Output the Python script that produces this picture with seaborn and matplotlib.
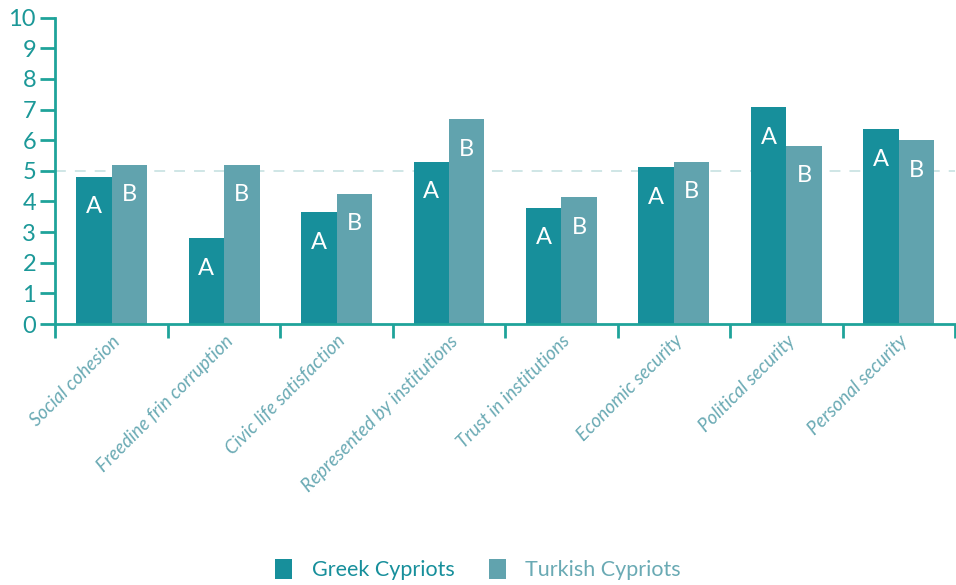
import numpy as np
import pandas as pd
import matplotlib
matplotlib.use("Agg")
import matplotlib.pyplot as plt
from matplotlib.patches import Patch
from matplotlib.ticker import FixedLocator
import seaborn as sns

sns.set_theme(style="white")
plt.rcParams['font.family'] = ['Lato', 'DejaVu Sans']

# data
categories = ["Social cohesion", "Freedine frin corruption", "Civic life satisfaction",
              "Represented by institutions", "Trust in institutions", "Economic security",
              "Political security", "Personal security"]
greek = [4.8, 2.8, 3.65, 5.3, 3.8, 5.12, 7.07, 6.36]
turkish = [5.2, 5.2, 4.26, 6.68, 4.13, 5.3, 5.81, 6.0]
groups = ["Greek Cypriots", "Turkish Cypriots"]
bar_letters = ["A", "B"]

dark = "#178f9b"
light = "#61a3ae"
axis_col = "#1fa39a"
tick_col = "#1b9898"
xlab_col = "#6aaab4"
W = 400  # font weight, the reference uses a thin sans

df = pd.DataFrame({
    "category": categories * 2,
    "value": greek + turkish,
    "group": [groups[0]] * len(categories) + [groups[1]] * len(categories),
})

fig = plt.figure(figsize=(9.56, 5.85), dpi=100)
ax = fig.add_axes([0.058, 0.446, 0.941, 0.524])

sns.barplot(data=df, x="category", y="value", hue="group", order=categories,
            hue_order=groups, palette=[dark, light], width=0.63, ax=ax,
            legend=False, saturation=1, edgecolor="none")

# white letters inside bar tops
for container, letter in zip(ax.containers, bar_letters):
    for bar in container:
        ax.annotate(letter, (bar.get_x() + bar.get_width() / 2, bar.get_height()),
                    xytext=(0, -14), textcoords="offset points", ha="center", va="top",
                    color="white", fontsize=17, fontweight=W)

ax.axhline(5, color="#cce4e4", linestyle=(0, (6, 5)), linewidth=1.3, zorder=0.5)

ax.set_ylim(0, 10)
ax.set_xlim(-0.5, len(categories) - 0.5)
ax.set_yticks(range(0, 11))
ax.set_xlabel("")
ax.set_ylabel("")

for side in ["top", "right"]:
    ax.spines[side].set_visible(False)
for side in ["left", "bottom"]:
    ax.spines[side].set_color(axis_col)
    ax.spines[side].set_linewidth(2)

ax.tick_params(axis="y", length=11, width=2, color=axis_col, labelcolor=tick_col,
               labelsize=17, pad=3, left=True)
for lbl in ax.get_yticklabels():
    lbl.set_fontweight(W)
ax.xaxis.set_minor_locator(FixedLocator(np.arange(-0.5, len(categories), 1.0)))
ax.tick_params(axis="x", which="minor", length=10, width=2, color=axis_col, bottom=True)
ax.tick_params(axis="x", which="major", length=0, pad=6)
ax.set_xticks(range(len(categories)))
ax.set_xticklabels(categories, rotation=45, ha="right", rotation_mode="anchor",
                   color=xlab_col, fontsize=13.5, style="italic", fontweight=W)

handles = [Patch(facecolor=dark, edgecolor="none"), Patch(facecolor=light, edgecolor="none")]
leg = fig.legend(handles, groups, loc="lower center", bbox_to_anchor=(0.5, -0.025), ncol=2,
                 frameon=False, fontsize=15.5, handlelength=0.8, handleheight=1.1,
                 handletextpad=0.9, columnspacing=1.6)
for txt, c in zip(leg.get_texts(), [dark, xlab_col]):
    txt.set_color(c)
    txt.set_fontweight(W)

fig.savefig("out.png", dpi=100)
